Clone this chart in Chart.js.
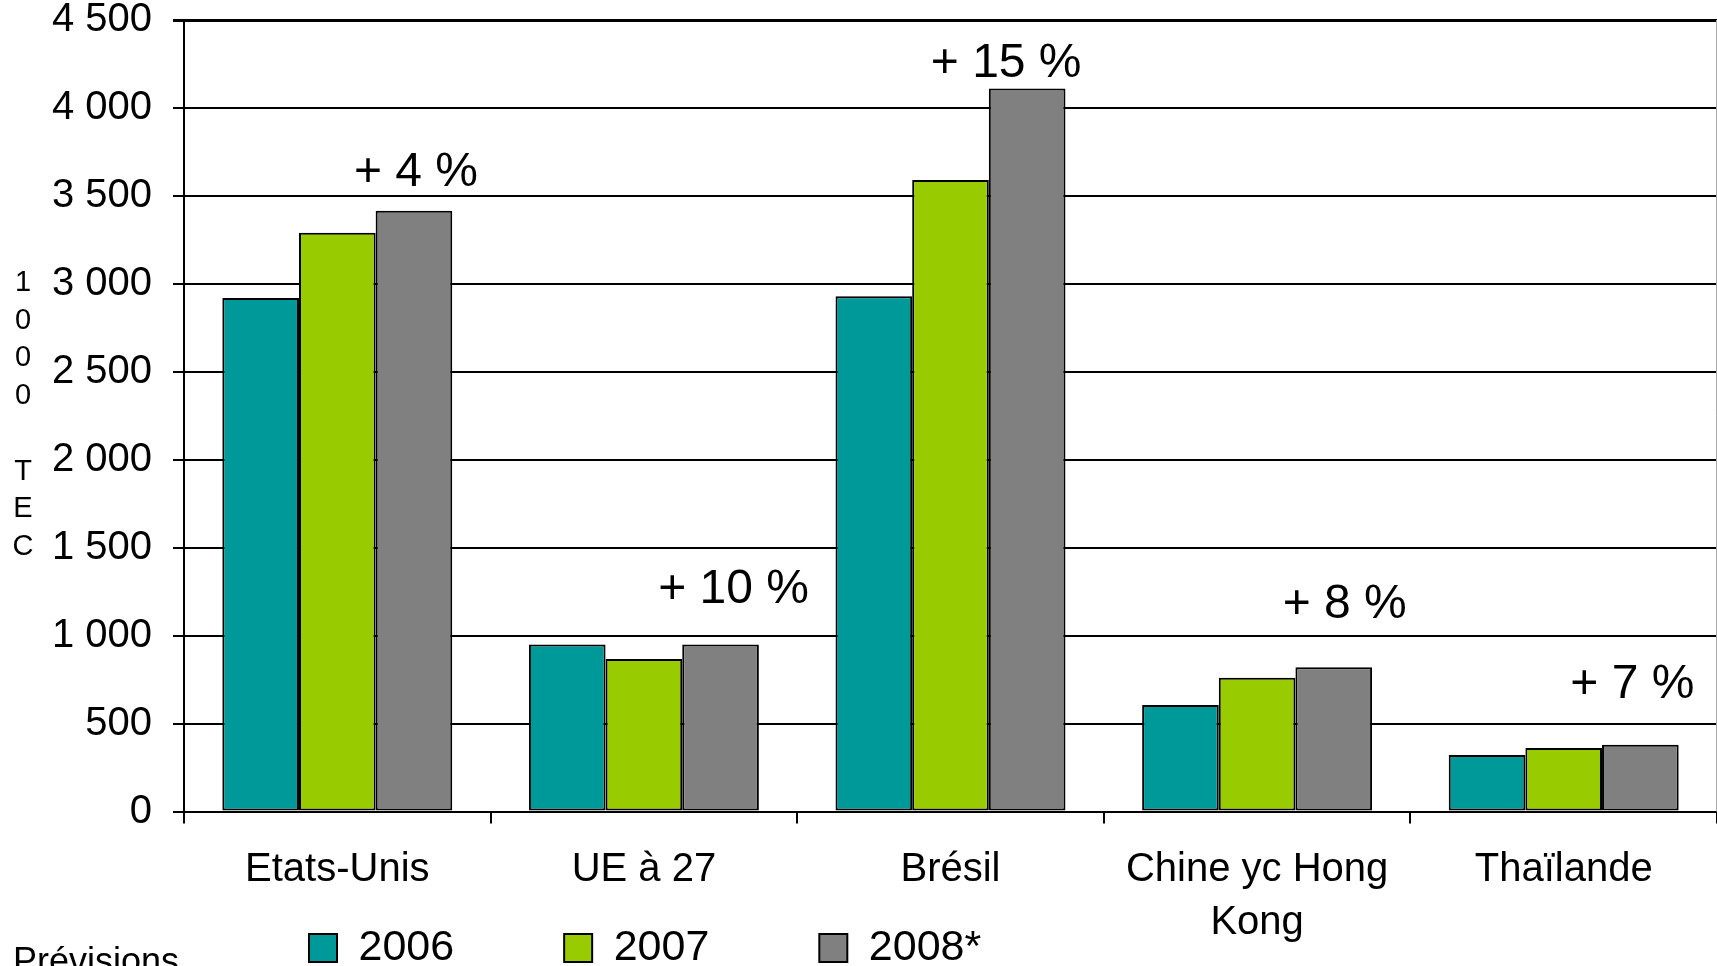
<!DOCTYPE html>
<html>
<head>
<meta charset="utf-8">
<script src="https://cdn.jsdelivr.net/npm/chart.js@4"></script>
<style>
  html, body { margin: 0; padding: 0; background: #fff; }
  canvas { display: block; }
</style>
</head>
<body>
<canvas id="grafico" width="1717" height="966"></canvas>
<script>
// données (1000 TEC)
const pays = ["Etats-Unis", "UE à 27", "Brésil", ["Chine yc Hong", "Kong"], "Thaïlande"];
const annees = ["2006", "2007", "2008*"];
const val2006 = [2920, 950, 2930, 605, 321];
const val2007 = [3290, 867, 3590, 761, 361];
const val2008 = [3415, 950, 4110, 820, 380];
const hausses = ["+ 4 %", "+ 10 %", "+ 15 %", "+ 8 %", "+ 7 %"];
const yMin = 0, yMax = 4500, yPas = 500;
const titreY = "1000 TEC";
const note = "Prévisions";

const couleurs = ["#009999", "#99cc00", "#808080"];
const police = "'Liberation Sans', Arial, sans-serif";

Chart.defaults.font.family = police;
Chart.defaults.color = "#000";

function milliers(v) {
  return String(v).replace(/\B(?=(\d{3})+(?!\d))/g, " ");
}

// petits décalages des étiquettes de hausse par rapport à la barre 2008
const decalages = [[2, -38], [13, -55], [-21, -25], [11, -63], [-8, -60]];

const extras = {
  id: "extras",
  afterLayout(chart) {
    const lg = chart.legend;
    lg.left = 309 - 110;
    lg.right = chart.width;
    lg.top = 948 - 21.5 - 110;
    lg.bottom = chart.height;
  },
  afterDraw(chart) {
    const ctx = chart.ctx;
    const area = chart.chartArea;
    ctx.save();
    // bord droit
    ctx.strokeStyle = "#aaa";
    ctx.lineWidth = 1;
    ctx.beginPath();
    ctx.moveTo(area.right - 0.5, area.top);
    ctx.lineTo(area.right - 0.5, area.bottom);
    ctx.stroke();

    // hausses 2008 / 2007
    ctx.fillStyle = "#000";
    ctx.textAlign = "center";
    ctx.textBaseline = "middle";
    ctx.font = "48px " + police;
    const meta = chart.getDatasetMeta(2);
    hausses.forEach((txt, i) => {
      const bar = meta.data[i];
      ctx.fillText(txt, bar.x + decalages[i][0], bar.y + decalages[i][1]);
    });

    // titre de l'axe, lettres empilées
    ctx.font = "29px " + police;
    titreY.split("").forEach((c, i) => {
      if (c !== " ") ctx.fillText(c, 23, 283 + i * 37.7);
    });

    // note en bas
    ctx.textAlign = "left";
    ctx.textBaseline = "alphabetic";
    ctx.font = "36px " + police;
    ctx.fillText(note, 13, 973);
    ctx.restore();
  }
};

const ctx = document.getElementById("grafico").getContext("2d");
new Chart(ctx, {
  type: "bar",
  data: {
    labels: pays,
    datasets: [val2006, val2007, val2008].map((d, i) => ({
      label: annees[i],
      data: d,
      backgroundColor: couleurs[i],
      borderColor: "#000",
      borderWidth: 2,
      borderSkipped: false,
      categoryPercentage: 0.75,
      barPercentage: 1.0
    }))
  },
  options: {
    responsive: false,
    animation: false,
    layout: { padding: { top: 20, left: 50, right: 0, bottom: 0 } },
    plugins: {
      title: { display: false },
      tooltip: { enabled: false },
      legend: {
        position: "bottom",
        align: "start",
        maxHeight: 4,
        labels: {
          boxWidth: 28,
          boxHeight: 28,
          padding: 110,
          color: "#000",
          font: { size: 43 }
        }
      }
    },
    scales: {
      x: {
        grid: {
          display: true,
          drawOnChartArea: false,
          drawTicks: true,
          tickLength: 12,
          color: "#000",
          lineWidth: 2,
          offset: true
        },
        border: { display: true, color: "#000", width: 2 },
        ticks: {
          color: "#000",
          padding: 20,
          maxRotation: 0,
          autoSkip: false,
          font: { size: 40, lineHeight: 1.32 }
        },
        afterFit(scale) { scale.height = 150.5; }
      },
      y: {
        min: yMin,
        max: yMax,
        grid: {
          color: "#000",
          lineWidth: c => (c.tick && c.tick.value === yMax ? 3 : 2),
          tickLength: 11
        },
        border: { display: true, color: "#000", width: 2 },
        ticks: {
          stepSize: yPas,
          color: "#000",
          padding: 21,
          font: { size: 40, lineHeight: 1 },
          callback: v => milliers(v)
        },
        afterFit(scale) {
          scale.width = 134;
          scale.paddingTop = 0;
          scale.paddingBottom = 0;
        }
      }
    }
  },
  plugins: [extras]
});
</script>
</body>
</html>
